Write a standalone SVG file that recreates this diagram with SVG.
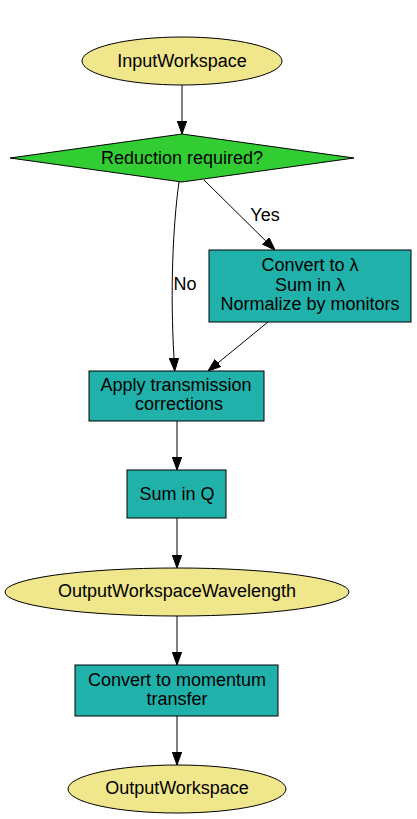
<svg xmlns="http://www.w3.org/2000/svg" width="417" height="819" viewBox="0 0 417 819">
<style>
text{font-family:"Liberation Sans",Arial,Helvetica,sans-serif;font-size:18px;fill:#000;text-anchor:middle}
.ws{fill:#f0e68c;stroke:#000;stroke-width:1}
.dec{fill:#32cd32;stroke:#000;stroke-width:1}
.alg{fill:#20b2aa;stroke:#000;stroke-width:1}
.edge{fill:none;stroke:#000;stroke-width:1;marker-end:url(#arr)}
</style>
<defs>
<marker id="arr" viewBox="0 0 13 10" refX="0" refY="5" markerWidth="13" markerHeight="10" markerUnits="userSpaceOnUse" orient="auto">
<path d="M0,0.3 L13,5 L0,9.7 Z" fill="#000" stroke="#000" stroke-width="1"/>
</marker>
</defs>
<rect width="417" height="819" fill="#fff"/>
<g id="connectors">
<path class="edge" d="M182,85 L182,121"/>
<path class="edge" d="M204,180 L265.7,240.9"/>
<text x="265" y="221">Yes</text>
<path class="edge" d="M179,182 C173,225 170,290 174,358"/>
<text x="185" y="290">No</text>
<path class="edge" d="M268,322 L218.1,362.8"/>
<path class="edge" d="M177,421 L177,457"/>
<path class="edge" d="M177,518 L177,555"/>
<path class="edge" d="M177,616 L177,652"/>
<path class="edge" d="M177,716 L177,752"/>
</g>
<g id="InputWorkspace">
<ellipse class="ws" cx="182" cy="61" rx="100" ry="24"/>
<text x="182" y="66.5">InputWorkspace</text>
</g>
<g id="ReductionRequired">
<polygon class="dec" points="182,134 354,158 182,182 10,158"/>
<text x="182" y="163.5">Reduction required?</text>
</g>
<g id="ConvertToLambda">
<rect class="alg" x="209" y="250" width="202" height="72"/>
<text x="310" y="271">Convert to λ</text>
<text x="310" y="290.5">Sum in λ</text>
<text x="310" y="310">Normalize by monitors</text>
</g>
<g id="ApplyTransmission">
<rect class="alg" x="89" y="371" width="175" height="50"/>
<text x="176" y="391">Apply transmission</text>
<text x="179" y="410">corrections</text>
</g>
<g id="SumInQ">
<rect class="alg" x="127" y="470" width="99" height="48"/>
<text x="177" y="499.5">Sum in Q</text>
</g>
<g id="OutputWorkspaceWavelength">
<ellipse class="ws" cx="177" cy="592" rx="172" ry="24"/>
<text x="177" y="597">OutputWorkspaceWavelength</text>
</g>
<g id="ConvertToMomentum">
<rect class="alg" x="75" y="665" width="203" height="51"/>
<text x="177" y="686">Convert to momentum</text>
<text x="177" y="705">transfer</text>
</g>
<g id="OutputWorkspace">
<ellipse class="ws" cx="177" cy="789" rx="109" ry="24"/>
<text x="177" y="794">OutputWorkspace</text>
</g>
</svg>
